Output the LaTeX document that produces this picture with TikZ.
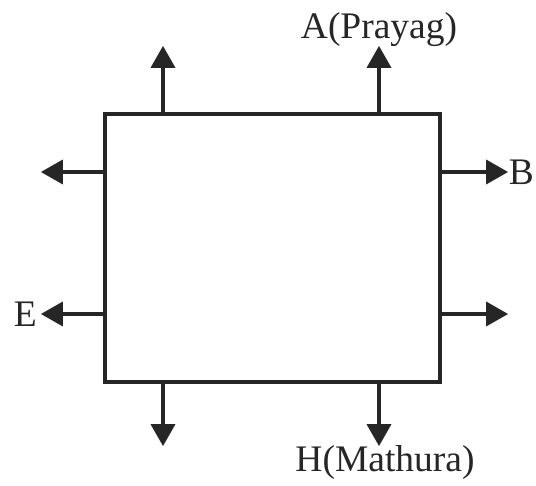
\documentclass[tikz,border=0pt]{standalone}
\usepackage{fontspec}
\setmainfont{Liberation Serif}
\usetikzlibrary{arrows.meta,positioning}

\begin{document}
\begin{tikzpicture}[
    box/.style={rectangle, draw=black!85, line width=3pt, minimum width=10.05cm, minimum height=8.04cm, inner sep=0pt},
    arrow/.style={-{Triangle[length=0.66cm, width=0.72cm]}, line width=3pt, draw=black!85, shorten >=-1pt},
    lbl/.style={inner sep=0pt, text=black!85, font=\fontsize{32}{38}\selectfont}
]
    \useasboundingbox (0,0) rectangle (16.08,14.58);
    \node [box] (field) at (8.175,7.14) {};

    % arrow tips
    \coordinate (tUL) at (4.89,13.17);
    \coordinate (tUR) at (11.37,13.17);
    \coordinate (tDL) at (4.89,1.23);
    \coordinate (tDR) at (11.37,1.23);
    \coordinate (tLU) at (1.26,9.42);
    \coordinate (tLD) at (1.26,5.16);
    \coordinate (tRU) at (15.21,9.42);
    \coordinate (tRD) at (15.21,5.16);

    \draw [arrow] (field.north -| tUL) -- (tUL);
    \draw [arrow] (field.north -| tUR) -- (tUR);
    \draw [arrow] (field.south -| tDL) -- (tDL);
    \draw [arrow] (field.south -| tDR) -- (tDR);
    \draw [arrow] (field.west |- tLU) -- (tLU);
    \draw [arrow] (field.west |- tLD) -- (tLD);
    \draw [arrow] (field.east |- tRU) -- (tRU);
    \draw [arrow] (field.east |- tRD) -- (tRD);

    \node [lbl, above=0pt of tUR] (prayag) {A(Prayag)};
    \node [lbl, below=0pt of tDR, xshift=0.18cm] (mathura) {H(Mathura)};
    \node [lbl, left=0.15cm of tLD] (east) {E};
    \node [lbl, right=0.05cm of tRU] (bee) {B};
\end{tikzpicture}
\end{document}
